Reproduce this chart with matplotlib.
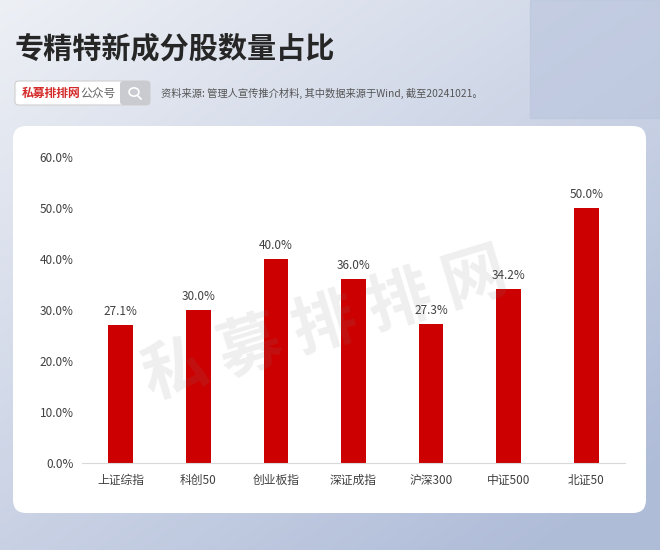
import numpy as np
import matplotlib.pyplot as plt
from matplotlib.patches import FancyBboxPatch, Rectangle, Circle
from matplotlib.lines import Line2D

plt.rcParams['font.family'] = ['Noto Sans CJK SC', 'DejaVu Sans']

# data
categories = ['上证综指', '科创50', '创业板指', '深证成指', '沪深300', '中证500', '北证50']
shares = [27.1, 30.0, 40.0, 36.0, 27.3, 34.2, 50.0]
yticks = [0, 10, 20, 30, 40, 50, 60]

title = '专精特新成分股数量占比'
source = '资料来源: 管理人宣传推介材料, 其中数据来源于Wind, 截至20241021。'

W, H = 660, 550
fig = plt.figure(figsize=(W / 100, H / 100), dpi=100)

def fx(px):
    return px / W

def fy(py):
    return 1 - py / H

# background gradient
bg = fig.add_axes([0, 0, 1, 1], zorder=-10)
bg.set_axis_off()
gx = np.linspace(0, 1, 200)
gy = np.linspace(0, 1, 200)
GX, GY = np.meshgrid(gx, gy)
t = np.clip(0.5 * GX + 0.6 * GY, 0, 1)
c0 = np.array([0.93, 0.94, 0.96])
c1 = np.array([0.69, 0.74, 0.85])
img = c0[None, None, :] * (1 - t[..., None]) + c1[None, None, :] * t[..., None]
bg.imshow(img, extent=[0, 1, 0, 1], aspect='auto', origin='upper')
bg.add_patch(Rectangle((fx(530), fy(118)), fx(130), 118 / H, color='#b9c4dd', alpha=0.6))
bg.set_xlim(0, 1)
bg.set_ylim(0, 1)

# white panel
bg.add_patch(FancyBboxPatch((fx(13), fy(513)), fx(633), (513 - 126) / H,
                            boxstyle='round,pad=0,rounding_size=0.02',
                            facecolor='white', edgecolor='none', mutation_aspect=W / H))

# title and header
fig.text(fx(15), fy(48), title, fontsize=21, fontweight='black', color='#262626', va='center')
bg.add_patch(FancyBboxPatch((fx(15), fy(105)), fx(135), 24 / H,
                            boxstyle='round,pad=0,rounding_size=0.006',
                            facecolor='white', edgecolor='#cfcfcf', lw=0.8))
bg.add_patch(FancyBboxPatch((fx(120), fy(105)), fx(30), 24 / H,
                            boxstyle='round,pad=0,rounding_size=0.006',
                            facecolor='#c9cbd0', edgecolor='none'))
bg.add_patch(Circle((fx(134), fy(92)), 0.0075, fill=False, edgecolor='white', lw=1.2,
                    transform=bg.transAxes))
bg.add_line(Line2D([fx(138), fx(141)], [fy(96), fy(99)], color='white', lw=1.2))
fig.text(fx(22), fy(93), '私募排排网', fontsize=8.5, fontweight='bold', color='#d42a2a', va='center')
fig.text(fx(80), fy(93), '公众号', fontsize=8.5, color='#666666', va='center')
fig.text(fx(161), fy(93), source, fontsize=7.4, color='#555555', va='center')

# chart
ax = fig.add_axes([fx(82), 87 / H, fx(625 - 82), (463 - 157) / H])
x = np.arange(len(categories))
bars = ax.bar(x, shares, width=0.32, color='#cc0000', zorder=2)
for xi, v in zip(x, shares):
    ax.annotate(f'{v:.1f}%', (xi, v), xytext=(0, 5), textcoords='offset points',
                ha='center', va='bottom', fontsize=8.5, color='#404040')
ax.set_xlim(-0.5, len(categories) - 0.5)
ax.set_ylim(0, 60)
ax.set_yticks(yticks)
ax.set_yticklabels([f'{v:.1f}%' for v in yticks], fontsize=8.5, color='#404040')
ax.set_xticks(x)
ax.set_xticklabels(categories, fontsize=8.5, color='#404040')
ax.tick_params(length=0, pad=8)
ax.tick_params(axis='y', pad=6)
for s in ['top', 'right', 'left']:
    ax.spines[s].set_visible(False)
ax.spines['bottom'].set_color('#d9d9d9')
ax.set_facecolor('none')

# watermark
fig.text(fx(325), fy(325), '私 募 排 排 网', fontsize=46, fontweight='bold', color='#808080',
         alpha=0.13, rotation=17, ha='center', va='center', zorder=10)

fig.savefig('out.png', dpi=100)
